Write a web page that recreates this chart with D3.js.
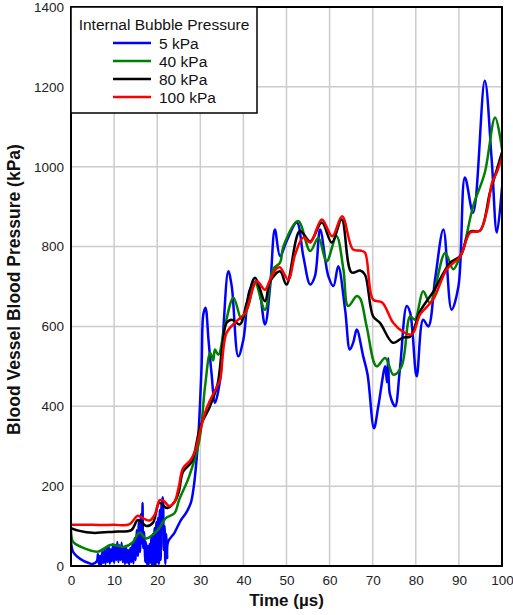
<!DOCTYPE html>
<html>
<head>
<meta charset="utf-8">
<script src="https://cdn.jsdelivr.net/npm/d3@7"></script>
<style>
  body { margin: 0; background: #fff; }
  text { font-family: "Liberation Sans", Arial, sans-serif; }
</style>
</head>
<body>
<svg id="chart" width="513" height="615"></svg>
<script>
// time axis ticks and pressure ticks
var xTicks = [0, 10, 20, 30, 40, 50, 60, 70, 80, 90, 100];
var yTicks = [0, 200, 400, 600, 800, 1000, 1200, 1400];

// 5 kPa (blue) - noisy at the start
var t5 = [0, 0.5, 1.5, 3, 4, 5, 6, 6.25, 6.5, 6.75, 7, 7.25, 7.5, 7.75, 8, 8.25, 8.5, 8.75, 9, 9.25, 9.5, 9.75,
  10, 10.25, 10.5, 10.75, 11, 11.25, 11.5, 11.75, 12, 12.25, 12.5, 12.75, 13, 13.25, 13.5, 13.75, 14, 14.25,
  14.5, 14.75, 15, 15.25, 15.5, 15.75, 16, 16.25, 16.5, 16.6, 16.75, 17, 17.2, 17.4, 17.6, 17.8, 18, 18.2, 18.4,
  18.6, 18.8, 19, 19.2, 19.4, 19.6, 19.8, 20, 20.2, 20.4, 20.6, 20.8, 21, 21.3, 21.5, 21.7, 21.9, 22.1, 22.3, 22.5,
  24, 25.5, 26.7, 27.8, 28.5, 29, 29.5, 30.3, 30.7, 31.2, 31.9, 32.6, 33.4, 34.6, 35.3, 36.5, 37.3, 38.8, 40,
  41.5, 43.1, 45, 46.2, 47.3, 48.5, 50, 52.4, 53.9, 55.5, 56.6, 57.8, 59.7, 60.9, 62, 63.6, 64.7, 65.5, 66.3,
  67.8, 68.8, 70.3, 71.3, 72.9, 73.3, 73.6, 74, 75.2, 76.3, 77.9, 78.7, 80.2, 81.7, 82.9, 84.5, 86.4, 88.3,
  89.9, 91.4, 93.3, 96, 97.6, 98.8, 100];
var p5 = [60, 35, 23, 12, 8, 5, 12, 30, 4, 25, 3, 35, 8, 40, 5, 45, 10, 50, 6, 42, 12, 55,
  8, 48, 15, 60, 10, 52, 15, 58, 10, 45, 5, 50, 8, 40, 4, 45, 10, 55,
  6, 70, 15, 90, 25, 110, 35, 130, 55, 158, 45, 85, 10, 60, 5, 50, 2, 55, 8,
  70, 0, 80, 5, 95, 0, 110, 10, 120, 5, 140, 15, 150, 172, 40, 100, 5, 80, 20, 60,
  83, 115, 133, 158, 200, 250, 316, 500, 630, 647, 567, 483, 409, 467, 584, 738, 700, 525, 567,
  692, 713, 605, 700, 843, 776, 813, 860, 776, 705, 726, 843, 726, 701, 751, 642, 542, 560, 592,
  525, 480, 345, 400, 500, 460, 520, 430, 400, 492, 651, 634, 475, 617, 600, 720, 843, 642,
  701, 973, 885, 1215, 1019, 835, 948];

// 40 kPa (green)
var t40 = [0, 0.5, 2.3, 6.2, 9.3, 12.3, 14.3, 15.9, 17.4, 20.1, 22, 24, 25.1, 27.4, 29.8, 31.1, 32.3, 33,
  33.4, 34.2, 35.7, 37.7, 39.6, 41.1, 42.7, 45, 46.9, 48.5, 49.3, 52.7, 55.5, 57.4, 59.3, 61.6, 63.2, 64.3,
  66.3, 67.1, 68.6, 70.9, 72.9, 74.8, 76.7, 78.7, 79.8, 81.7, 83.3, 86.8, 88.7, 90.3, 91, 93.3, 96, 98.4, 100];
var p40 = [90, 60, 48, 36, 53, 48, 59, 84, 69, 90, 120, 132, 166, 224, 316, 450, 534, 515,
  542, 529, 600, 672, 617, 650, 710, 642, 743, 760, 801, 864, 789, 822, 763, 826, 743, 651,
  676, 670, 600, 500, 521, 479, 500, 625, 617, 688, 659, 784, 743, 776, 793, 901, 985, 1123, 1044];

// 80 kPa (black)
var t80 = [0, 2, 5, 10, 14, 15.5, 17.5, 19, 20.5, 22.3, 24, 25, 26, 28, 30, 32.2, 34, 35, 36.1, 37.3, 39.2,
  40.8, 42.7, 45, 46.2, 48.5, 50, 53.1, 55.5, 58.2, 60.5, 62.8, 65.1, 67.1, 68.2, 70.1, 71.7, 74.7, 77, 78.7,
  81, 84.1, 88, 90.3, 92.6, 94.9, 97.2, 98.8, 100];
var p80 = [95, 88, 83, 86, 90, 115, 100, 108, 158, 145, 160, 185, 236, 261, 349, 399, 455, 540, 609, 617, 605,
  660, 722, 663, 713, 738, 705, 839, 813, 860, 810, 868, 735, 740, 730, 625, 609, 559, 572, 575,
  638, 688, 760, 776, 837, 840, 935, 993, 1036];

// 100 kPa (red)
var t100 = [0, 5, 10, 13.5, 15.5, 17, 18.3, 19.5, 20.6, 21.5, 22.8, 24, 25, 26, 27.8, 29, 30, 31.5, 33.9, 34.6,
  36.1, 38.4, 40.4, 43.1, 45, 46.2, 47.7, 48.5, 50.4, 52, 53.9, 55.5, 58.2, 60.6, 62.9, 65.4, 67.1, 68.2,
  70.1, 72.2, 74.7, 77, 79.1, 81, 84, 87.2, 90.3, 92.6, 94.9, 96.5, 97.7, 98.8, 100];
var p100 = [103, 103, 103, 104, 126, 118, 114, 130, 165, 163, 150, 160, 198, 245, 266, 295, 340, 396, 450, 467,
  584, 613, 634, 713, 692, 717, 745, 748, 717, 780, 823, 810, 868, 826, 876, 793, 790, 785,
  667, 660, 610, 587, 580, 630, 667, 743, 775, 835, 840, 890, 960, 986, 1025];

var series = [
  {name: "5 kPa", color: "#0000ff", t: t5, p: p5},
  {name: "40 kPa", color: "#008000", t: t40, p: p40},
  {name: "80 kPa", color: "#000000", t: t80, p: p80},
  {name: "100 kPa", color: "#ff0000", t: t100, p: p100}
];

(function(){
  var svg = d3.select("#chart");
  var left = 71, right = 502, plotTop = 7, bottom = 566;

  var x = d3.scaleLinear().domain([0, 100]).range([left, right]);
  var y = d3.scaleLinear().domain([0, 1400]).range([bottom, plotTop]);

  // grid
  svg.append("g").selectAll("line").data(xTicks.slice(1, -1)).enter().append("line")
    .attr("x1", function(d){ return x(d); }).attr("x2", function(d){ return x(d); })
    .attr("y1", plotTop).attr("y2", bottom)
    .attr("stroke", "#cccccc").attr("stroke-width", 1.5);
  svg.append("g").selectAll("line").data(yTicks.slice(1, -1)).enter().append("line")
    .attr("x1", left).attr("x2", right)
    .attr("y1", function(d){ return y(d); }).attr("y2", function(d){ return y(d); })
    .attr("stroke", "#cccccc").attr("stroke-width", 1.5);

  // axes (labels only)
  var xAxis = svg.append("g").attr("transform", "translate(0," + bottom + ")")
    .call(d3.axisBottom(x).tickValues(xTicks).tickSize(0).tickPadding(9).tickFormat(d3.format("d")));
  var yAxis = svg.append("g").attr("transform", "translate(" + left + ",0)")
    .call(d3.axisLeft(y).tickValues(yTicks).tickSize(0).tickPadding(7).tickFormat(d3.format("d")));
  [xAxis, yAxis].forEach(function(a){
    a.select(".domain").remove();
    a.selectAll("text").attr("font-size", 13.5).attr("fill", "#222")
      .attr("font-family", "Liberation Sans, Arial, sans-serif");
  });

  // lines
  var line = d3.line()
    .x(function(d){ return x(d[0]); })
    .y(function(d){ return y(d[1]); })
    .curve(d3.curveCatmullRom.alpha(0.5));

  svg.append("defs").append("clipPath").attr("id", "clip")
    .append("rect").attr("x", left).attr("y", plotTop).attr("width", right - left).attr("height", bottom - plotTop);

  var g = svg.append("g").attr("clip-path", "url(#clip)");
  series.forEach(function(s){
    var pts = s.t.map(function(t, i){ return [t, s.p[i]]; });
    g.append("path").datum(pts)
      .attr("d", line)
      .attr("fill", "none")
      .attr("stroke", s.color)
      .attr("stroke-width", 2.5)
      .attr("stroke-linejoin", "round");
  });

  // frame
  svg.append("rect").attr("x", left).attr("y", plotTop)
    .attr("width", right - left).attr("height", bottom - plotTop)
    .attr("fill", "none").attr("stroke", "#000").attr("stroke-width", 2);

  // legend
  var leg = svg.append("g");
  leg.append("rect").attr("x", left).attr("y", plotTop).attr("width", 186).attr("height", 106)
    .attr("fill", "#fff").attr("stroke", "#000").attr("stroke-width", 1.5);
  leg.append("text").attr("x", 164).attr("y", 30).attr("text-anchor", "middle")
    .attr("font-size", 15.5).attr("fill", "#111").text("Internal Bubble Pressure");
  series.forEach(function(s, i){
    var yy = 43 + i * 18;
    leg.append("line").attr("x1", 113).attr("x2", 151).attr("y1", yy).attr("y2", yy)
      .attr("stroke", s.color).attr("stroke-width", 2.5);
    leg.append("text").attr("x", 159).attr("y", yy + 5.5).attr("font-size", 15.5)
      .attr("fill", "#111").text(s.name);
  });

  // axis titles
  svg.append("text").attr("x", (left + right) / 2).attr("y", 606).attr("text-anchor", "middle")
    .attr("font-size", 17).attr("font-weight", "bold").attr("fill", "#111").text("Time (µs)");
  svg.append("text").attr("transform", "translate(20," + ((plotTop + bottom) / 2 + 3) + ") rotate(-90)")
    .attr("text-anchor", "middle").attr("font-size", 17.5).attr("font-weight", "bold")
    .attr("fill", "#111").text("Blood Vessel Blood Pressure (kPa)");
})();
</script>
</body>
</html>
